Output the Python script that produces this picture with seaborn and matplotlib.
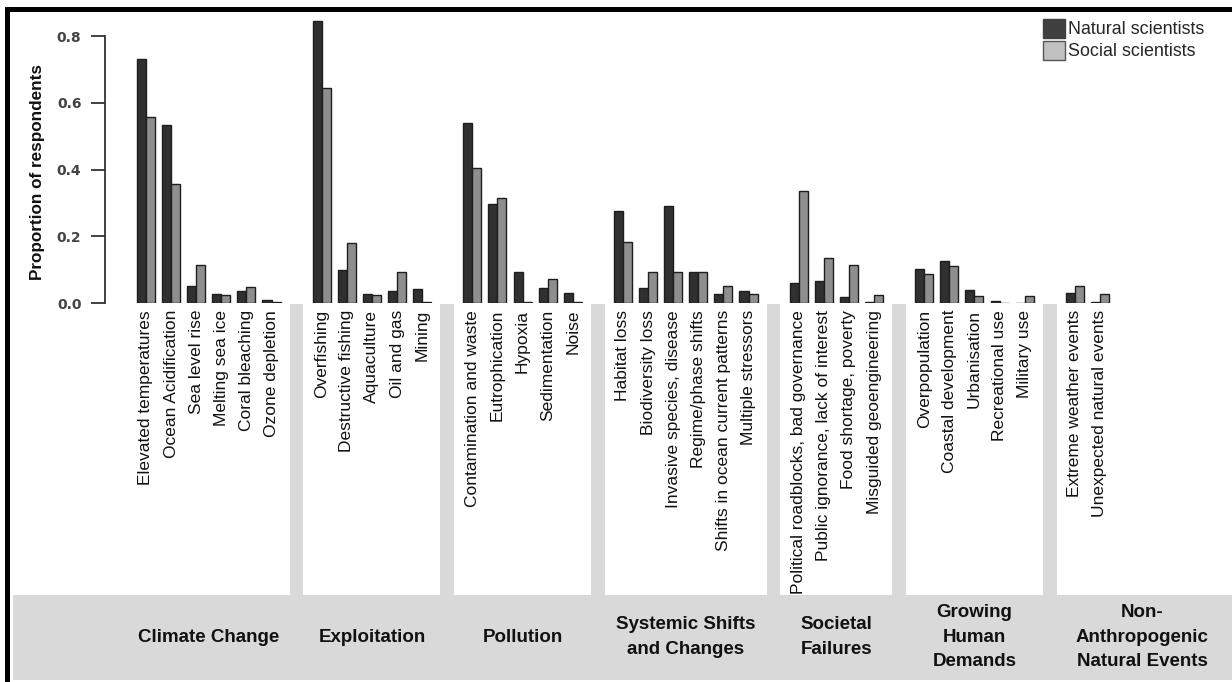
import matplotlib
matplotlib.use("Agg")
import matplotlib.pyplot as plt
import matplotlib.transforms as mtransforms
from matplotlib.patches import Rectangle, Patch
import seaborn as sns
import pandas as pd

# Threat groups and the threats in each
group_names = ["Climate Change", "Exploitation", "Pollution",
               "Systemic Shifts\nand Changes", "Societal\nFailures",
               "Growing\nHuman\nDemands", "Non-\nAnthropogenic\nNatural Events"]
climate = ["Elevated temperatures", "Ocean Acidification", "Sea level rise",
           "Melting sea ice", "Coral bleaching", "Ozone depletion"]
exploitation = ["Overfishing", "Destructive fishing", "Aquaculture", "Oil and gas", "Mining"]
pollution = ["Contamination and waste", "Eutrophication", "Hypoxia", "Sedimentation", "Noise"]
systemic = ["Habitat loss", "Biodiversity loss", "Invasive species, disease",
            "Regime/phase shifts", "Shifts in ocean current patterns", "Multiple stressors"]
societal = ["Political roadblocks, bad governance", "Public ignorance, lack of interest",
            "Food shortage, poverty", "Misguided geoengineering"]
growing = ["Overpopulation", "Coastal development", "Urbanisation", "Recreational use", "Military use"]
natural_events = ["Extreme weather events", "Unexpected natural events"]
group_items = [climate, exploitation, pollution, systemic, societal, growing, natural_events]

# Proportion of respondents
natural = [0.730, 0.533, 0.052, 0.026, 0.035, 0.008,
           0.845, 0.100, 0.026, 0.035, 0.043,
           0.538, 0.298, 0.094, 0.046, 0.030,
           0.275, 0.045, 0.291, 0.094, 0.028, 0.035,
           0.059, 0.066, 0.017, 0.002,
           0.103, 0.127, 0.039, 0.006, 0.001,
           0.031, 0.002]
social = [0.556, 0.358, 0.114, 0.025, 0.049, 0.002,
          0.645, 0.179, 0.024, 0.092, 0.002,
          0.405, 0.315, 0.002, 0.073, 0.002,
          0.182, 0.094, 0.094, 0.094, 0.050, 0.026,
          0.337, 0.135, 0.114, 0.024,
          0.088, 0.112, 0.021, 0.001, 0.021,
          0.052, 0.028]
series = ["Natural scientists", "Social scientists"]

sns.set_style("white")
plt.rcParams["font.family"] = ["Liberation Sans", "DejaVu Sans"]

# slot positions, one empty slot between groups
slots, seps, centers = [], [], []
pos = 0
for items in group_items:
    start = pos
    for _ in items:
        slots.append(pos)
        pos += 1
    centers.append((start + pos - 1) / 2)
    seps.append(pos)
    pos += 1
seps = seps[:-1]
labels = [c for items in group_items for c in items]
n = len(labels)

df = pd.DataFrame({
    "slot": slots * 2,
    "value": natural + social,
    "who": [series[0]] * n + [series[1]] * n,
})

W, H = 1232, 682
fig = plt.figure(figsize=(W / 100, H / 100), dpi=100)
ax = fig.add_axes([105 / W, 379 / H, 1123 / W, 288 / H])

sns.barplot(data=df, x="slot", y="value", hue="who", native_scale=True, width=0.72,
            palette=["#303030", "#8e8e8e"], edgecolor="#1e1e1e", linewidth=1,
            errorbar=None, legend=False, ax=ax)

xmax = 43.1
ax.set_xlim(-1.633, xmax)
ax.set_ylim(0, 0.863)
ax.set_xticks(slots)
ax.set_xticklabels(labels, rotation=90, fontsize=12.5, color="#111111")
ax.tick_params(axis="x", length=0, pad=5)
ax.set_xlabel("")

ax.set_yticks([0, 0.2, 0.4, 0.6, 0.8])
ax.set_yticklabels(["0.0", "0.2", "0.4", "0.6", "0.8"], fontsize=10,
                   fontweight="bold", color="#444444", family="DejaVu Sans")
ax.tick_params(axis="y", length=10, width=1.3, color="#333333", pad=7, left=True)
ax.spines["left"].set_bounds(0, 0.8)
ax.spines["left"].set_color("#333333")
ax.spines["left"].set_linewidth(1.3)
for side in ["top", "right", "bottom"]:
    ax.spines[side].set_visible(False)
ax.set_ylabel("Proportion of respondents", fontsize=12.3, fontweight="bold", color="#111111")
ax.yaxis.set_label_coords(-0.0534, 0.455)

# grey separators between groups and the grey band under them
trans = mtransforms.blended_transform_factory(ax.transData, fig.transFigure)
for s in seps:
    fig.patches.append(Rectangle((s - 0.27, 87 / H), 0.54, (595 - 305) / H + 0.002,
                                 transform=trans, facecolor="#d9d9d9", edgecolor="none", zorder=0))
fig.patches.append(Rectangle((13 / W, 2 / H), 1, 85 / H, transform=fig.transFigure,
                             facecolor="#d9d9d9", edgecolor="none", zorder=0))

# black frame on top and left
fig.patches.append(Rectangle((5 / W, 670 / H), 1, 5 / H, transform=fig.transFigure,
                             facecolor="black", edgecolor="none"))
fig.patches.append(Rectangle((5 / W, 0), 5 / W, 675 / H, transform=fig.transFigure,
                             facecolor="black", edgecolor="none"))

# group labels
centers[-1] = (seps[-1] + 0.27 + xmax) / 2
for name, cx in zip(group_names, centers):
    fig.text(cx, 45 / H, name, transform=trans, ha="center", va="center",
             fontsize=13.5, fontweight="bold", linespacing=1.6, color="#111111")

handles = [Patch(facecolor="#404040", edgecolor="#404040"),
           Patch(facecolor="#c0c0c0", edgecolor="#555555")]
fig.legend(handles, series, loc="upper left", bbox_to_anchor=(1043 / W, 1 - 19 / H),
           frameon=False, fontsize=12.9, handlelength=1.25, handleheight=1.25,
           handletextpad=0.15, labelspacing=0.12, borderaxespad=0, borderpad=0)

fig.savefig("out.png", dpi=100)
